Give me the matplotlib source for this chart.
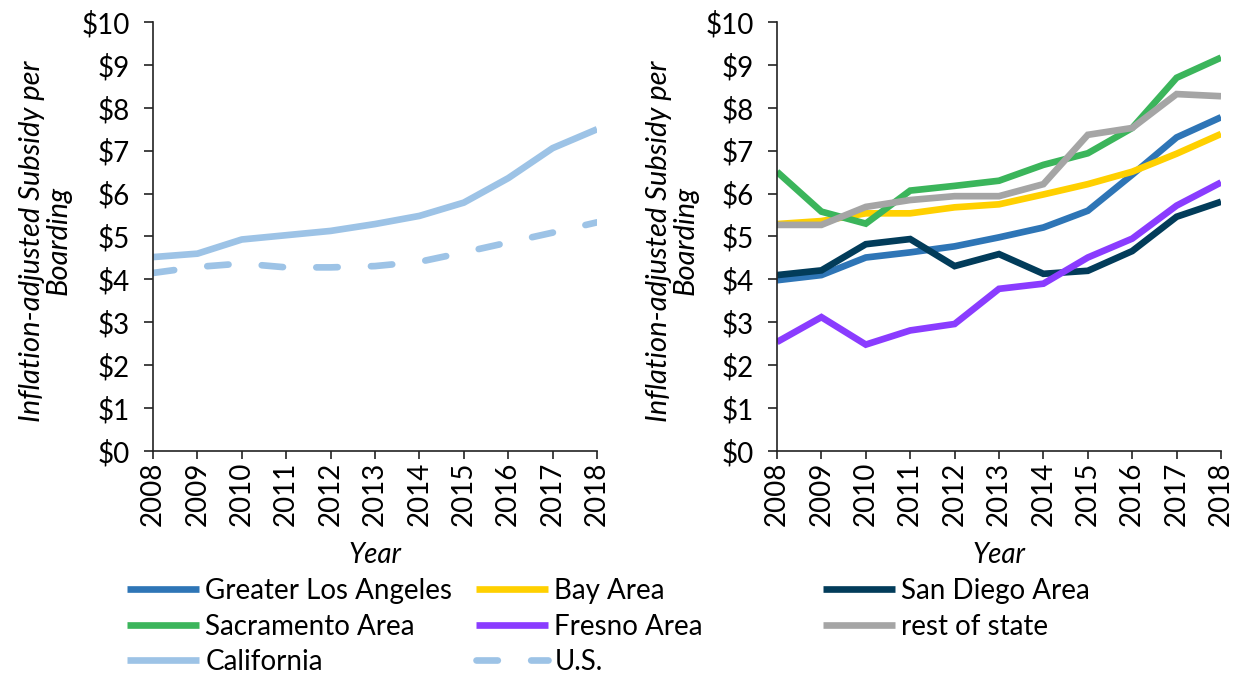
import matplotlib
matplotlib.use("Agg")
import matplotlib.pyplot as plt

plt.rcParams['font.family'] = ['Lato', 'DejaVu Sans']

years = list(range(2008, 2019))

# statewide vs national
california = [4.52, 4.60, 4.93, 5.03, 5.13, 5.29, 5.48, 5.79, 6.36, 7.06, 7.50]
us = [4.15, 4.29, 4.37, 4.28, 4.28, 4.31, 4.41, 4.63, 4.86, 5.09, 5.33]

# regions
greater_la = [3.98, 4.10, 4.51, 4.63, 4.77, 4.98, 5.21, 5.60, 6.44, 7.31, 7.78]
bay_area = [5.29, 5.36, 5.54, 5.54, 5.68, 5.75, 5.98, 6.22, 6.51, 6.93, 7.39]
san_diego = [4.10, 4.21, 4.82, 4.94, 4.31, 4.59, 4.13, 4.20, 4.66, 5.46, 5.81]
sacramento = [6.51, 5.58, 5.30, 6.07, 6.18, 6.30, 6.67, 6.94, 7.53, 8.70, 9.17]
fresno = [2.54, 3.12, 2.48, 2.81, 2.96, 3.78, 3.90, 4.51, 4.95, 5.72, 6.26]
rest_of_state = [5.27, 5.27, 5.69, 5.85, 5.94, 5.94, 6.22, 7.37, 7.53, 8.32, 8.27]

regions = [
    ("Greater Los Angeles", greater_la, "#2E75B6"),
    ("Bay Area", bay_area, "#FFD000"),
    ("San Diego Area", san_diego, "#023C5A"),
    ("Sacramento Area", sacramento, "#3BB55B"),
    ("Fresno Area", fresno, "#8A3CFF"),
    ("rest of state", rest_of_state, "#A5A5A5"),
]

FS = 20
LW = 4.8
light_blue = "#9DC3E6"

fig = plt.figure(figsize=(12.41, 6.73), dpi=100)
ax1 = fig.add_axes([0.1233, 0.3299, 0.3578, 0.6374])
ax2 = fig.add_axes([0.6261, 0.3299, 0.3578, 0.6374])

h_ca, = ax1.plot(years, california, color=light_blue, lw=LW, solid_capstyle='butt',
                 label="California")
h_us, = ax1.plot(years, us, color=light_blue, lw=LW, dashes=(3.2, 5.0),
                 dash_capstyle='round', label="U.S.")

handles = {}
for name, vals, col in regions:
    h, = ax2.plot(years, vals, color=col, lw=LW, solid_capstyle='butt',
                  solid_joinstyle='miter', label=name)
    handles[name] = h

for ax in (ax1, ax2):
    ax.set_xlim(2008, 2018)
    ax.set_ylim(0, 10)
    ax.set_xticks(years)
    ax.set_xticklabels([str(y) for y in years], rotation=90, fontsize=FS)
    ax.set_yticks(range(0, 11))
    ax.set_yticklabels([f"${v}" for v in range(0, 11)], fontsize=FS)
    ax.spines['top'].set_visible(False)
    ax.spines['right'].set_visible(False)
    for s in ('left', 'bottom'):
        ax.spines[s].set_linewidth(1.2)
        ax.spines[s].set_color('#222222')
    ax.tick_params(axis='y', direction='out', length=6.5, width=1.2, pad=10,
                   color='#222222')
    ax.tick_params(axis='x', direction='out', length=6, width=1.2, pad=2,
                   color='#222222')
    ax.set_xlabel("Year", fontsize=FS, style='italic')
    ax.xaxis.label.set_va('center')
    ax.xaxis.set_label_coords(0.5, -0.242)
    ax.set_ylabel("Inflation-adjusted Subsidy per\nBoarding", fontsize=21,
                  style='italic', linespacing=1.05)
    ax.yaxis.label.set_va('center')

ax1.yaxis.set_label_coords(-0.243, 0.49)
ax2.yaxis.set_label_coords(-0.236, 0.49)

# legend laid out as three fixed-width columns
columns = [
    ([handles["Greater Los Angeles"], handles["Sacramento Area"], h_ca], 0.1023),
    ([handles["Bay Area"], handles["Fresno Area"], h_us], 0.3836),
    ([handles["San Diego Area"], handles["rest of state"]], 0.6632),
]
for hs, x in columns:
    fig.legend(handles=hs, labels=[h.get_label() for h in hs],
               loc='upper left', bbox_to_anchor=(x, 0.141), frameon=False,
               fontsize=FS, handlelength=2.6, handletextpad=0.22,
               labelspacing=0.34, borderpad=0, borderaxespad=0)

fig.savefig("out.png", dpi=100)
